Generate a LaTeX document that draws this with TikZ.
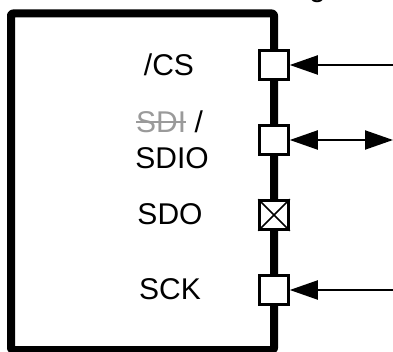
\documentclass[tikz,border=0pt]{standalone}
\usepackage{fontspec}
\setmainfont{Liberation Sans}
\usetikzlibrary{arrows.meta}
\definecolor{sdigray}{HTML}{9A9A9A}
\begin{document}
\begin{tikzpicture}[x=1pt,y=-1pt,
  lbl/.style={inner sep=0pt,font=\fontsize{30}{35}\selectfont},
  port/.style={draw,line width=2.5pt,fill=white,minimum size=29pt,inner sep=0pt},
  sig/.style={line width=2pt}]
\useasboundingbox (0,0) rectangle (393,352);
% chip outline
\draw[line width=8pt,line join=round,rounded corners=2pt] (11,13.5) rectangle (274,350);
% cut-off label at the top
\node[lbl,anchor=base west] (cut) at (309,-3.5) {g};
% ports
\node[port] (pcs) at (274,65) {};
\node[port] (psdio) at (274,140) {};
\node[port] (psdo) at (274,215) {};
\node[port] (psck) at (274,290) {};
\draw[line width=1.5pt] (psdo.north west) -- (psdo.south east) (psdo.north east) -- (psdo.south west);
% external ends
\coordinate (ecs) at (393,65);
\coordinate (esdio) at (393,140);
\coordinate (esck) at (393,290);
% connectors
\draw[sig,-{Triangle[length=28pt,width=19pt]}] (ecs) -- (pcs.east);
\draw[sig,{Triangle[length=28pt,width=19pt]}-{Triangle[length=28pt,width=19pt]}] (psdio.east) -- (esdio);
\draw[sig,-{Triangle[length=28pt,width=19pt]}] (esck) -- (psck.east);
% labels
\node[lbl] (tcs) at (169,65) {/CS};
\node[lbl,text=sdigray,anchor=west] (tsdi) at (136,122) {SDI};
\draw[sdigray,line width=2pt] (tsdi.west) -- (tsdi.east);
\node[lbl,anchor=west] (tslash) at ([xshift=8pt]tsdi.east) {/};
\node[lbl] (tsdio) at (172,158) {SDIO};
\node[lbl] (tsdo) at (170,214) {SDO};
\node[lbl] (tsck) at (170,289) {SCK};
\end{tikzpicture}
\end{document}
